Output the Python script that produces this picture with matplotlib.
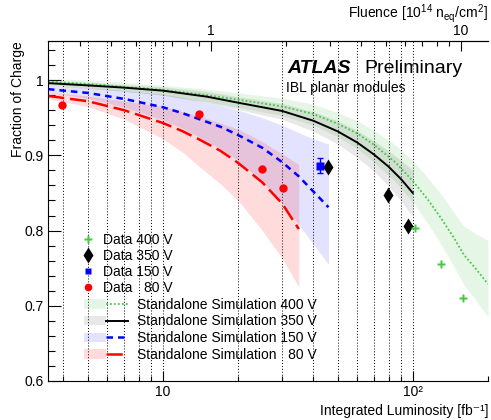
import numpy as np
import matplotlib
matplotlib.use("Agg")
import matplotlib.pyplot as plt
from matplotlib.patches import Patch
from matplotlib.lines import Line2D
from matplotlib.legend_handler import HandlerTuple
from matplotlib.ticker import FixedLocator, FuncFormatter, NullFormatter, MultipleLocator

plt.rcParams['font.family'] = ['Liberation Sans', 'DejaVu Sans']
plt.rcParams['mathtext.fontset'] = 'custom'
plt.rcParams['mathtext.rm'] = 'Liberation Sans'
plt.rcParams['mathtext.it'] = 'Liberation Sans:italic'
plt.rcParams['mathtext.bf'] = 'Liberation Sans:bold'

# measured data points
lumi_80 = [3.94, 13.9, 24.9, 30.2]
frac_80 = [0.967, 0.955, 0.882, 0.857]
lumi_150 = [42.5]
frac_150 = [0.886]
err_150 = [0.010]
lumi_350 = [45.7, 79.4, 95.5]
frac_350 = [0.885, 0.847, 0.806]
lumi_400 = [101.9, 129.4, 158.5]
frac_400 = [0.804, 0.755, 0.711]

# standalone simulation curves + uncertainty bands
sim_lumi_400 = [3.47, 5, 7, 10, 15, 20, 30, 40, 50, 60, 70, 85, 100, 115, 130, 145, 160, 180, 200]
sim_frac_400 = [0.998, 0.995, 0.991, 0.987, 0.980, 0.974, 0.965, 0.955, 0.942, 0.929, 0.914, 0.891, 0.866,
                0.841, 0.816, 0.792, 0.768, 0.748, 0.729]
band_lo_400 = [0.994, 0.990, 0.985, 0.980, 0.971, 0.964, 0.953, 0.940, 0.925, 0.909, 0.891, 0.865, 0.838,
                0.809, 0.781, 0.754, 0.728, 0.706, 0.685]
band_hi_400 = [1.002, 1.000, 0.997, 0.993, 0.988, 0.983, 0.976, 0.968, 0.957, 0.946, 0.933, 0.914, 0.893,
                0.870, 0.848, 0.826, 0.806, 0.795, 0.787]

sim_lumi_350 = [3.47, 5, 7, 10, 15, 20, 30, 40, 50, 60, 70, 80, 90, 100]
sim_frac_350 = [0.996, 0.993, 0.990, 0.986, 0.978, 0.970, 0.959, 0.946, 0.932, 0.917, 0.901, 0.885, 0.868, 0.850]
band_lo_350 = [0.993, 0.989, 0.985, 0.980, 0.970, 0.961, 0.948, 0.932, 0.915, 0.897, 0.879, 0.859, 0.839, 0.818]
band_hi_350 = [0.999, 0.997, 0.994, 0.991, 0.985, 0.978, 0.969, 0.958, 0.946, 0.933, 0.919, 0.906, 0.893, 0.880]

sim_lumi_150 = [3.47, 5, 7, 10, 12, 14, 17, 20, 25, 30, 35, 40, 46]
sim_frac_150 = [0.988, 0.983, 0.975, 0.964, 0.956, 0.948, 0.938, 0.927, 0.910, 0.891, 0.872, 0.852, 0.831]
band_lo_150 = [0.984, 0.976, 0.964, 0.947, 0.936, 0.924, 0.909, 0.893, 0.865, 0.836, 0.808, 0.782, 0.755]
band_hi_150 = [0.993, 0.990, 0.986, 0.981, 0.977, 0.972, 0.966, 0.960, 0.950, 0.940, 0.930, 0.922, 0.915]

sim_lumi_80 = [3.47, 5, 7, 10, 12, 14, 17, 20, 25, 30, 35]
sim_frac_80 = [0.979, 0.972, 0.960, 0.943, 0.932, 0.921, 0.906, 0.890, 0.864, 0.836, 0.802]
band_lo_80 = [0.975, 0.965, 0.948, 0.922, 0.904, 0.885, 0.862, 0.840, 0.800, 0.763, 0.725]
band_hi_80 = [0.984, 0.979, 0.972, 0.965, 0.958, 0.952, 0.943, 0.935, 0.918, 0.902, 0.888]

lumi_per_fluence = 15.56

green = '#44c844'
c_band_400 = ('#33bb33', 0.12)
c_band_350 = ('#000000', 0.09)
c_band_150 = ('#0000ff', 0.11)
c_band_80 = ('#ff0000', 0.14)

fig = plt.figure(figsize=(4.91, 4.20), dpi=100)
ax = fig.add_axes([48 / 491, 1 - 381 / 420, 440 / 491, 340 / 420])
ax.set_xscale('log')
ax.set_xlim(3.47, 200)
ax.set_ylim(0.6, 1.052)

ax.grid(True, which='both', axis='x', color='black', linestyle=(0, (1, 2)), linewidth=0.7)
ax.set_axisbelow(True)

ax.fill_between(sim_lumi_400, band_lo_400, band_hi_400, color=c_band_400[0], alpha=c_band_400[1], lw=0)
ax.fill_between(sim_lumi_350, band_lo_350, band_hi_350, color=c_band_350[0], alpha=c_band_350[1], lw=0)
ax.fill_between(sim_lumi_150, band_lo_150, band_hi_150, color=c_band_150[0], alpha=c_band_150[1], lw=0)
ax.fill_between(sim_lumi_80, band_lo_80, band_hi_80, color=c_band_80[0], alpha=c_band_80[1], lw=0)

l400, = ax.plot(sim_lumi_400, sim_frac_400, color=green, lw=1.3, linestyle=(0, (1, 1.2)))
l350, = ax.plot(sim_lumi_350, sim_frac_350, color='black', lw=1.4)
l150, = ax.plot(sim_lumi_150, sim_frac_150, color='#0000ff', lw=1.8, linestyle=(0, (2.6, 2.0)))
l80, = ax.plot(sim_lumi_80, sim_frac_80, color='#ff0000', lw=1.8, linestyle=(0, (6.5, 2.4)))

ax.plot(lumi_80, frac_80, 'o', color='#ff0000', ms=6, mec='none')
ax.errorbar(lumi_150, frac_150, yerr=err_150, fmt='s', color='#0000ff', ms=5.5, capsize=2, elinewidth=1, mec='none')
ax.plot(lumi_350, frac_350, 'd', color='black', ms=8, mec='none')
ax.plot(lumi_400, frac_400, 'P', color=green, ms=6, mec='none')

# axes styling
ax.spines['right'].set_visible(False)
ax.xaxis.set_major_locator(FixedLocator([10, 100]))
ax.xaxis.set_minor_locator(FixedLocator([4, 5, 6, 7, 8, 9, 20, 30, 40, 50, 60, 70, 80, 90, 200]))
ax.xaxis.set_major_formatter(FuncFormatter(lambda v, p: '10' if v < 50 else '10\u00b2'))
ax.xaxis.set_minor_formatter(NullFormatter())
ax.yaxis.set_major_locator(MultipleLocator(0.1))
ax.yaxis.set_minor_locator(MultipleLocator(0.02))
ax.yaxis.set_major_formatter(FuncFormatter(lambda v, p: '%g' % round(v, 2)))
ax.tick_params(axis='x', which='major', direction='in', length=7.3, width=0.8, top=False, labelsize=10, pad=3)
ax.tick_params(axis='x', which='minor', direction='in', length=3.7, width=0.8, top=False)
ax.tick_params(axis='y', which='major', direction='in', length=9.4, width=0.8, right=False, labelsize=10, pad=3)
ax.tick_params(axis='y', which='minor', direction='in', length=4.7, width=0.8, right=False)

secax = ax.secondary_xaxis('top', functions=(lambda x: x / lumi_per_fluence, lambda f: f * lumi_per_fluence))
secax.xaxis.set_major_locator(FixedLocator([1, 10]))
secax.xaxis.set_minor_locator(FixedLocator([0.3, 0.4, 0.5, 0.6, 0.7, 0.8, 0.9, 2, 3, 4, 5, 6, 7, 8, 9]))
secax.xaxis.set_major_formatter(FuncFormatter(lambda v, p: '%g' % v))
secax.xaxis.set_minor_formatter(NullFormatter())
secax.tick_params(which='major', direction='in', length=7.3, width=0.8, labelsize=10, pad=2)
secax.tick_params(which='minor', direction='in', length=3.7, width=0.8)

ax.set_ylabel('Fraction of Charge', loc='top', fontsize=10)
ax.yaxis.set_label_coords(-0.052, 1.0)
ax.text(1.0, -0.1, 'Integrated Luminosity [fb\u207b\u00b9]', transform=ax.transAxes,
        ha='right', va='baseline', fontsize=10)
ax.text(1.0, 1.082, r'Fluence [10$^{\mathregular{14}}$ n$_{\mathregular{eq}}$/cm$^{\mathregular{2}}$]',
        transform=ax.transAxes, ha='right', va='center', fontsize=10)

ax.text(0.543, 0.906, 'ATLAS', transform=ax.transAxes, fontsize=14, fontweight='bold', fontstyle='italic', va='baseline')
ax.text(0.718, 0.906, 'Preliminary', transform=ax.transAxes, fontsize=14, va='baseline')
ax.text(0.541, 0.85, 'IBL planar modules', transform=ax.transAxes, fontsize=10, va='baseline')

# legends
data_handles = [
    Line2D([], [], marker='P', color=green, ls='none', ms=6, mec='none'),
    Line2D([], [], marker='d', color='black', ls='none', ms=8, mec='none'),
    Line2D([], [], marker='s', color='#0000ff', ls='none', ms=5, mec='none'),
    Line2D([], [], marker='o', color='#ff0000', ls='none', ms=5.5, mec='none'),
]
data_labels = ['Data 400 V', 'Data 350 V', 'Data 150 V', 'Data   80 V']
leg1 = ax.legend(data_handles, data_labels, loc='upper left', bbox_to_anchor=(0.075, 0.435),
                 frameon=False, borderpad=0, borderaxespad=0, handlelength=1.0,
                 handletextpad=0.6, labelspacing=0.15, fontsize=10)
ax.add_artist(leg1)

sim_handles = [
    (Patch(facecolor=c_band_400[0], alpha=c_band_400[1], lw=0), l400),
    (Patch(facecolor=c_band_350[0], alpha=c_band_350[1], lw=0), l350),
    (Patch(facecolor=c_band_150[0], alpha=c_band_150[1], lw=0), l150),
    (Patch(facecolor=c_band_80[0], alpha=c_band_80[1], lw=0), l80),
]
sim_labels = ['Standalone Simulation 400 V', 'Standalone Simulation 350 V',
              'Standalone Simulation 150 V', 'Standalone Simulation   80 V']
ax.legend(sim_handles, sim_labels, loc='upper left', bbox_to_anchor=(0.082, 0.245),
          frameon=False, borderpad=0, borderaxespad=0, handlelength=3.15,
          handletextpad=0.65, labelspacing=0.2, fontsize=10,
          handler_map={tuple: HandlerTuple(ndivide=None)})

fig.savefig('out.png', dpi=100)
